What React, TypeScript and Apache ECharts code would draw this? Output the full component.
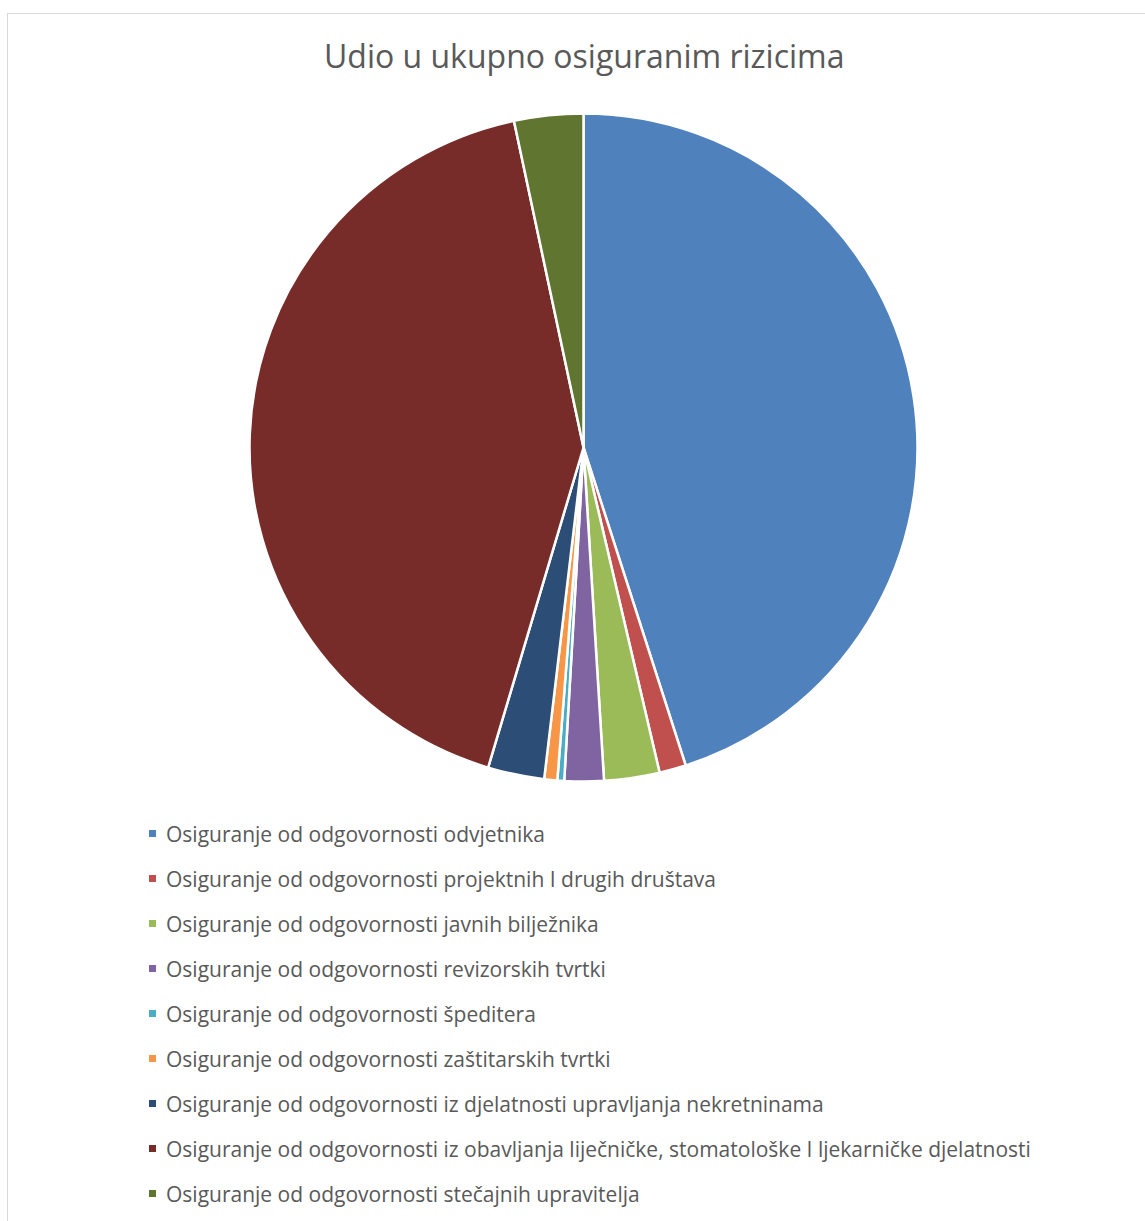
import React, { useEffect, useRef } from "react";
import * as echarts from "echarts";

const title = "Udio u ukupno osiguranim rizicima";
const categories = [
  "Osiguranje od odgovornosti odvjetnika",
  "Osiguranje od odgovornosti projektnih I drugih društava",
  "Osiguranje od odgovornosti javnih bilježnika",
  "Osiguranje od odgovornosti revizorskih tvrtki",
  "Osiguranje od odgovornosti špeditera",
  "Osiguranje od odgovornosti zaštitarskih tvrtki",
  "Osiguranje od odgovornosti iz djelatnosti upravljanja nekretninama",
  "Osiguranje od odgovornosti iz obavljanja liječničke, stomatološke I ljekarničke djelatnosti",
  "Osiguranje od odgovornosti stečajnih upravitelja",
];
const values = [45.05, 1.29, 2.68, 1.9, 0.33, 0.63, 2.73, 42.05, 3.34];
const colors = ["#4F81BD", "#C0504D", "#9BBB59", "#8064A2", "#4BACC6", "#F79646", "#2C4D75", "#772C2A", "#5F7530"];

export default function App() {
  const ref = useRef<HTMLDivElement>(null);
  useEffect(() => {
    if (!ref.current) return;
    const chart = echarts.init(ref.current, undefined, { renderer: "svg" });
    chart.setOption({
      animation: false,
      color: colors,
      title: {
        text: title,
        left: 311,
        top: 20,
        textStyle: { fontFamily: "Open Sans", fontSize: 32, fontWeight: "normal", color: "#595959" },
      },
      legend: {
        orient: "vertical",
        left: 134,
        top: 804,
        icon: "rect",
        itemWidth: 9,
        itemHeight: 9,
        itemGap: 24,
        textStyle: { fontFamily: "Open Sans", fontSize: 21, color: "#595959", padding: [0, 0, 0, 4] },
        data: categories,
      },
      series: [
        {
          type: "pie",
          center: [575.5, 433.5],
          radius: 334,
          startAngle: 90,
          clockwise: true,
          label: { show: false },
          labelLine: { show: false },
          itemStyle: { borderColor: "#fff", borderWidth: 2.5 },
          data: categories.map((c, i) => ({ name: c, value: values[i] })),
        },
      ],
    });
    return () => chart.dispose();
  }, []);
  return (
    <div
      ref={ref}
      style={{
        position: "absolute",
        left: 7,
        top: 13,
        width: 1138,
        height: 1208,
        borderLeft: "1px solid #d9d9d9",
        borderTop: "1px solid #d9d9d9",
        boxSizing: "border-box",
      }}
    />
  );
}
